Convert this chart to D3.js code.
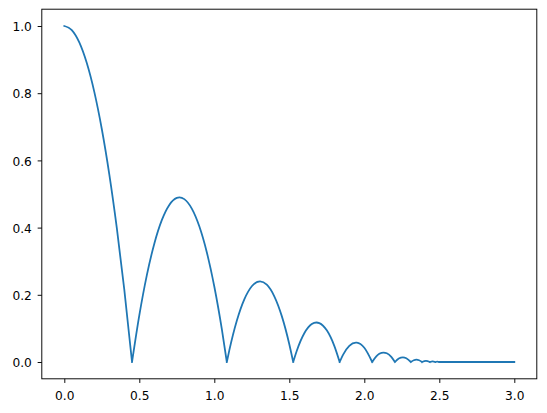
<!DOCTYPE html>
<html>
<head>
<meta charset="utf-8">
<script src="https://cdn.jsdelivr.net/npm/d3@7"></script>
<style>
html,body{margin:0;padding:0;background:#fff;}
svg{display:block;}
.axis text{font-family:"DejaVu Sans",sans-serif;font-size:12.2px;fill:#000;}
.axis path,.axis line{stroke:#000;stroke-width:0.95px;}
</style>
</head>
<body>
<div id="chart"></div>
<script>
// Time (x) and height (y)
const times = [
  0, 0.05, 0.1, 0.15, 0.2, 0.25, 0.3, 0.35, 0.4, 0.4515,
  0.5, 0.55, 0.6, 0.65, 0.7, 0.75, 0.7675, 0.8, 0.85, 0.9, 0.95, 1.0, 1.05, 1.0835,
  1.1, 1.15, 1.2, 1.25, 1.3047, 1.35, 1.4, 1.45, 1.5, 1.526,
  1.55, 1.6, 1.65, 1.6809, 1.7, 1.75, 1.8, 1.8357,
  1.86, 1.9, 1.9441, 1.95, 2.0, 2.0525,
  2.08, 2.1, 2.1284, 2.15, 2.18, 2.2043,
  2.23, 2.2574, 2.28, 2.3105,
  2.33, 2.3477, 2.365, 2.3849,
  2.411, 2.437,
  2.4552, 2.4734,
  2.4862, 2.499,
  3.0
];
const heights = [
  1, 0.9877, 0.951, 0.8896, 0.8038, 0.6934, 0.5586, 0.3991, 0.2152, 0,
  0.1388, 0.2578, 0.3522, 0.4221, 0.4675, 0.4884, 0.49, 0.4847, 0.4565, 0.4038, 0.3266, 0.2248, 0.0985, 0,
  0.0345, 0.1226, 0.1863, 0.2254, 0.2401, 0.23, 0.1955, 0.1365, 0.053, 0,
  0.0336, 0.0856, 0.113, 0.1176, 0.1158, 0.0942, 0.048, 0,
  0.0229, 0.0481, 0.0576, 0.0575, 0.0423, 0,
  0.0168, 0.0243, 0.0282, 0.026, 0.0152, 0,
  0.0102, 0.0138, 0.0113, 0,
  0.0052, 0.0068, 0.0053, 0,
  0.0033, 0,
  0.0016, 0,
  0.0008, 0,
  0
];
const xTicks = [0, 0.5, 1.0, 1.5, 2.0, 2.5, 3.0];
const yTicks = [0, 0.2, 0.4, 0.6, 0.8, 1.0];

const W = 547, H = 413;
const margin = {left: 41.8, right: W - 536.8, top: 9.2, bottom: H - 378.8};

const svg = d3.select("#chart").append("svg").attr("width", W).attr("height", H);

const x = d3.scaleLinear().domain([-0.15, 3.15]).range([margin.left, W - margin.right]);
const y = d3.scaleLinear().domain([-0.05, 1.05]).range([H - margin.bottom, margin.top]);

const data = times.map((t, i) => ({t, h: heights[i]}));

// split into arcs at ground contacts so the cusps stay sharp
const arcs = [];
let cur = [];
data.forEach((d, i) => {
  cur.push(d);
  if (d.h === 0 && i > 0 && cur.length > 1) {
    arcs.push(cur);
    cur = [d];
  }
});
if (cur.length > 1) arcs.push(cur);

const line = d3.line().x(d => x(d.t)).y(d => y(d.h)).curve(d3.curveMonotoneX);
const pathD = arcs.map(a => line(a)).join("");

svg.append("path")
  .attr("d", pathD)
  .attr("fill", "none")
  .attr("stroke", "#1f77b4")
  .attr("stroke-width", 1.78)
  .attr("stroke-linejoin", "round")
  .attr("stroke-linecap", "square");

const fmt = d3.format(".1f");
const tl = 4.15;

const gx = svg.append("g").attr("class", "axis")
  .attr("transform", `translate(0,${H - margin.bottom})`)
  .call(d3.axisBottom(x).tickValues(xTicks).tickFormat(fmt).tickSize(tl).tickPadding(4.15).tickSizeOuter(0));
gx.select(".domain").remove();
gx.selectAll("text").attr("y", 0).attr("dy", null).attr("dominant-baseline", null)
  .attr("transform", "translate(0,20.9)");

const gy = svg.append("g").attr("class", "axis")
  .attr("transform", `translate(${margin.left},0)`)
  .call(d3.axisLeft(y).tickValues(yTicks).tickFormat(fmt).tickSize(tl).tickPadding(5.8).tickSizeOuter(0));
gy.select(".domain").remove();
gy.selectAll("text").attr("dy", "0.38em");

// frame (spines)
svg.append("rect")
  .attr("x", margin.left).attr("y", margin.top)
  .attr("width", W - margin.right - margin.left)
  .attr("height", H - margin.bottom - margin.top)
  .attr("fill", "none").attr("stroke", "#000").attr("stroke-width", 0.95);
</script>
</body>
</html>
